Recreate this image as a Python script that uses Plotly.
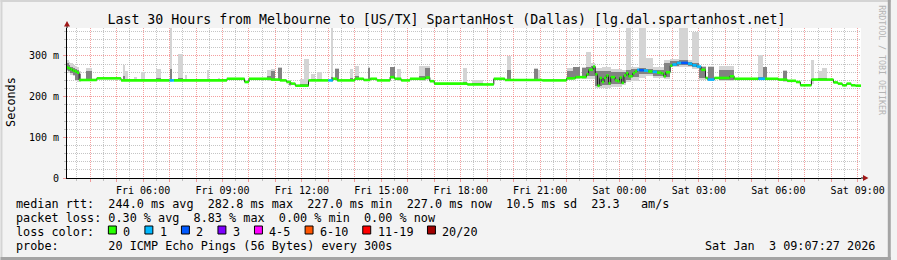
import plotly.graph_objects as go
from datetime import datetime, timedelta

# ---------------- data ----------------
window_start = "Fri 03:07:27"
window_end = "Sat 09:07:27"

median_time = [
    "Fri 03:07:27", "Fri 03:10", "Fri 03:15", "Fri 03:20", "Fri 03:25", "Fri 03:30", "Fri 03:35",
    "Fri 04:15", "Fri 05:10", "Fri 07:00", "Fri 07:10", "Fri 09:10", "Fri 09:50", "Fri 10:00",
    "Fri 10:50", "Fri 11:10", "Fri 11:25", "Fri 11:35", "Fri 11:45", "Fri 12:15", "Fri 13:00",
    "Fri 13:10", "Fri 13:20", "Fri 14:00", "Fri 14:20", "Fri 14:35", "Fri 14:50", "Fri 15:20",
    "Fri 15:30", "Fri 15:45", "Fri 16:05", "Fri 16:40", "Fri 16:50", "Fri 17:00", "Fri 18:15",
    "Fri 19:15", "Fri 19:40", "Fri 21:05", "Fri 22:00", "Fri 22:20", "Fri 22:45", "Fri 22:50",
    "Fri 23:00", "Fri 23:05", "Fri 23:10", "Fri 23:15", "Fri 23:20", "Fri 23:25", "Fri 23:30",
    "Fri 23:35", "Fri 23:40", "Fri 23:50", "Fri 23:55", "Sat 00:00", "Sat 00:05", "Sat 00:10",
    "Sat 00:15", "Sat 00:20", "Sat 00:30", "Sat 00:35", "Sat 00:40", "Sat 00:45", "Sat 00:55",
    "Sat 01:05", "Sat 01:15", "Sat 01:25", "Sat 01:35", "Sat 01:40", "Sat 01:45", "Sat 01:55",
    "Sat 02:00", "Sat 02:10", "Sat 02:20", "Sat 02:35", "Sat 02:45", "Sat 02:55", "Sat 03:05",
    "Sat 03:15", "Sat 03:20", "Sat 03:35", "Sat 04:10", "Sat 04:20", "Sat 05:15", "Sat 05:30",
    "Sat 06:00", "Sat 06:20", "Sat 06:40", "Sat 06:50", "Sat 07:15", "Sat 08:05", "Sat 08:15",
    "Sat 08:25", "Sat 08:35", "Sat 08:45", "Sat 08:55",
]
median_ms = [
    272, 270, 267, 264, 262, 259, 241,
    245, 240, 240, 240, 244, 236, 244,
    242, 240, 236, 232, 227, 240, 240,
    244, 240, 244, 241, 244, 240, 248,
    244, 240, 244, 247, 238, 232, 230,
    244, 241, 240, 245, 248, 255, 266,
    274, 255, 227, 246, 236, 246, 252,
    233, 248, 240, 238, 247, 234, 252,
    258, 250, 258, 262, 266, 265, 264,
    262, 261, 259, 257, 250, 260, 276,
    279, 282.8, 283, 281, 277, 274, 266,
    246, 242, 246, 250, 244, 244, 244,
    242, 239, 236, 228, 242, 235, 232,
    228, 232, 228, 227,
]
median_loss = [
    0, 0, 0, 0, 0, 0, 0,
    0, 0, 1, 0, 0, 0, 0,
    0, 0, 0, 0, 0, 0, 1,
    0, 0, 0, 0, 0, 0, 0,
    0, 0, 0, 0, 0, 0, 0,
    0, 0, 0, 0, 0, 0, 0,
    0, 0, 0, 0, 0, 0, 0,
    0, 0, 0, 0, 0, 0, 0,
    0, 0, 0, 0, 1, 2, 1,
    0, 1, 0, 0, 0, 0, 0,
    1, 1, 2, 1, 1, 1, 0,
    0, 1, 0, 0, 0, 1, 0,
    0, 0, 0, 0, 0, 0, 0,
    0, 0, 0, 0,
]

# smoke: spread of the 20 pings per interval (min..max) and the inner band
smoke_start = [
    "Fri 03:07:27", "Fri 03:10", "Fri 03:15", "Fri 03:20", "Fri 03:25", "Fri 03:30", "Fri 03:35",
    "Fri 03:50", "Fri 05:15", "Fri 05:20", "Fri 05:40", "Fri 05:55", "Fri 06:30", "Fri 07:00",
    "Fri 07:20", "Fri 07:35", "Fri 08:25", "Fri 08:50", "Fri 10:40", "Fri 10:50", "Fri 11:05",
    "Fri 11:30", "Fri 11:55", "Fri 12:05", "Fri 12:20", "Fri 12:35", "Fri 13:05", "Fri 13:15",
    "Fri 13:50", "Fri 14:00", "Fri 14:30", "Fri 15:20", "Fri 15:35", "Fri 16:25", "Fri 16:40",
    "Fri 18:05", "Fri 18:25", "Fri 19:45", "Fri 20:45", "Fri 20:55", "Fri 22:00", "Fri 22:15",
    "Fri 22:35", "Fri 22:45", "Fri 22:55", "Fri 23:05", "Fri 23:20", "Fri 23:40", "Sat 00:05",
    "Sat 00:15", "Sat 00:25", "Sat 00:45", "Sat 01:00", "Sat 01:15", "Sat 01:40", "Sat 01:55",
    "Sat 02:15", "Sat 02:35", "Sat 02:45", "Sat 03:00", "Sat 03:20", "Sat 03:45", "Sat 05:15",
    "Sat 05:25", "Sat 06:10", "Sat 07:15", "Sat 07:30", "Sat 07:40",
]
smoke_end = [
    "Fri 03:10", "Fri 03:15", "Fri 03:20", "Fri 03:25", "Fri 03:30", "Fri 03:35", "Fri 03:40",
    "Fri 04:05", "Fri 05:20", "Fri 05:25", "Fri 05:45", "Fri 06:05", "Fri 06:40", "Fri 07:05",
    "Fri 07:30", "Fri 07:40", "Fri 08:30", "Fri 08:55", "Fri 10:50", "Fri 11:00", "Fri 11:15",
    "Fri 11:35", "Fri 12:05", "Fri 12:15", "Fri 12:30", "Fri 12:45", "Fri 13:10", "Fri 13:25",
    "Fri 13:55", "Fri 14:10", "Fri 14:35", "Fri 15:30", "Fri 15:45", "Fri 16:40", "Fri 16:50",
    "Fri 18:15", "Fri 18:50", "Fri 19:55", "Fri 20:55", "Fri 21:00", "Fri 22:15", "Fri 22:30",
    "Fri 22:45", "Fri 22:55", "Fri 23:05", "Fri 23:20", "Fri 23:40", "Sat 00:05", "Sat 00:15",
    "Sat 00:25", "Sat 00:45", "Sat 01:00", "Sat 01:15", "Sat 01:40", "Sat 01:55", "Sat 02:15",
    "Sat 02:35", "Sat 02:45", "Sat 03:00", "Sat 03:15", "Sat 03:35", "Sat 04:20", "Sat 05:25",
    "Sat 05:35", "Sat 06:20", "Sat 07:20", "Sat 07:40", "Sat 07:50",
]
smoke_min = [
    262, 258, 254, 250, 238, 236, 236,
    238, 238, 238, 238, 238, 238, 236,
    238, 238, 238, 238, 238, 238, 238,
    226, 224, 224, 238, 238, 236, 238,
    238, 240, 240, 244, 238, 238, 240,
    228, 228, 238, 238, 238, 242, 244,
    244, 244, 244, 222, 222, 224, 228,
    236, 238, 246, 252, 246, 244, 272,
    274, 272, 268, 242, 240, 238, 240,
    240, 236, 230, 238, 238,
]
smoke_max = [
    290, 286, 282, 278, 276, 272, 262,
    270, 278, 262, 248, 260, 268, 372,
    305, 254, 266, 246, 266, 268, 272,
    240, 244, 293, 256, 260, 372, 270,
    268, 276, 272, 274, 268, 276, 276,
    270, 240, 299, 270, 266, 270, 274,
    274, 311, 282, 270, 272, 268, 266,
    372, 272, 372, 296, 272, 290, 292,
    372, 290, 360, 276, 276, 276, 303,
    274, 266, 291, 262, 270,
]
smoke_inner_lo = [
    266, 262, 258, 254, 242, 240, 240,
    241, 241, 240, 239, 239, 239, 240,
    239, 239, 239, 239, 240, 242, 242,
    228, 226, 226, 239, 239, 238, 241,
    240, 242, 242, 246, 240, 240, 244,
    229, 229, 240, 240, 239, 244, 246,
    248, 250, 250, 226, 228, 230, 234,
    242, 248, 255, 256, 252, 248, 276,
    278, 275, 272, 246, 242, 242, 242,
    242, 238, 238, 240, 240,
]
smoke_inner_hi = [
    282, 278, 274, 270, 268, 266, 256,
    262, 250, 244, 242, 244, 245, 268,
    246, 242, 244, 242, 250, 262, 270,
    234, 230, 232, 244, 244, 248, 268,
    246, 252, 270, 272, 246, 250, 270,
    236, 233, 266, 268, 244, 262, 272,
    270, 272, 276, 262, 264, 260, 260,
    266, 268, 270, 268, 266, 282, 288,
    290, 286, 282, 274, 274, 266, 248,
    272, 264, 244, 245, 246,
]

y_tick_values = [0, 100, 200, 300]
y_tick_labels = ["0", "100 m", "200 m", "300 m"]
x_tick_labels = ["Fri 06:00", "Fri 09:00", "Fri 12:00", "Fri 15:00", "Fri 18:00",
                 "Fri 21:00", "Sat 00:00", "Sat 03:00", "Sat 06:00", "Sat 09:00"]

loss_labels = ["0", "1", "2", "3", "4-5", "6-10", "11-19", "20/20"]
loss_colors = ["#26ff00", "#00b8ff", "#0059ff", "#7e00ff", "#ff00ff", "#ff5500", "#ff0000", "#a10000"]

title_text = "Last 30 Hours from Melbourne to [US/TX] SpartanHost (Dallas) [lg.dal.spartanhost.net]"
legend_lines = [
    "median rtt:  244.0 ms avg  282.8 ms max  227.0 ms min  227.0 ms now  10.5 ms sd  23.3   am/s",
    "packet loss: 0.30 % avg  8.83 % max  0.00 % min  0.00 % now",
    "loss color:",
    "probe:       20 ICMP Echo Pings (56 Bytes) every 300s",
]
timestamp_text = "Sat Jan  3 09:07:27 2026"
y_max = 368.8

# ---------------- helpers ----------------
DAYS = {"Fri": "2026-01-02", "Sat": "2026-01-03"}


def T(s):
    day, hm = s.split()
    if len(hm) == 5:
        hm += ":00"
    return datetime.fromisoformat(f"{DAYS[day]} {hm}")


t0, t1 = T(window_start), T(window_end)
MONO = "DejaVu Sans Mono"

# plot-area geometry in pixels (for decorations outside the plot)
W, H = 897, 260
L, R, TOP, BOT = 67, 30, 28, 82
PW, PH = W - L - R, H - TOP - BOT


def px(x):
    return (x - L) / PW


def py(y):
    return (H - BOT - y) / PH


fig = go.Figure()

# smoke (outer spread)
s0 = [T(s) for s in smoke_start]
s1 = [T(s) for s in smoke_end]
mids = [a + (b - a) / 2 for a, b in zip(s0, s1)]
widths = [(b - a).total_seconds() * 1000 for a, b in zip(s0, s1)]
fig.add_trace(go.Bar(
    x=mids, base=smoke_min, y=[h - l for l, h in zip(smoke_min, smoke_max)], width=widths,
    marker=dict(color="#d4d4d4", line=dict(width=0)), hoverinfo="skip"))
fig.add_trace(go.Bar(
    x=mids, base=smoke_inner_lo, y=[h - l for l, h in zip(smoke_inner_lo, smoke_inner_hi)], width=widths,
    marker=dict(color="#828282", line=dict(width=0)), hoverinfo="skip"))

# median: thin dark step line
mt = [T(s) for s in median_time]
fig.add_trace(go.Scatter(
    x=mt + [t1], y=median_ms + [median_ms[-1]], mode="lines",
    line=dict(color="#202020", width=1, shape="hv"), hoverinfo="skip"))

# median: loss-coloured horizontal segments
ends = mt[1:] + [t1]
for lvl in sorted(set(median_loss)):
    xs, ys = [], []
    for a, b, v, l in zip(mt, ends, median_ms, median_loss):
        if l == lvl:
            xs += [a, b, None]
            ys += [v, v, None]
    fig.add_trace(go.Scatter(x=xs, y=ys, mode="lines",
                             line=dict(color=loss_colors[lvl], width=2.6), hoverinfo="skip"))

# axis ticks / grids
hours = []
h = datetime(2026, 1, 2, 4)
while h <= t1:
    hours.append(h)
    h += timedelta(hours=1)
halfs = [x + timedelta(minutes=30) for x in [datetime(2026, 1, 2, 3)] + hours if x + timedelta(minutes=30) < t1]
label_map = {T(s): s for s in x_tick_labels}
x_tick_text = [label_map.get(x, "") for x in hours]

y_minor = [v for v in range(20, int(y_max), 20) if v % 100]

RED_GRID = "rgba(235,80,80,0.55)"
GREY_GRID = "rgba(150,150,150,0.55)"

fig.update_layout(
    width=W, height=H,
    margin=dict(l=L, r=R, t=TOP, b=BOT, pad=0),
    paper_bgcolor="#f3f3f3", plot_bgcolor="#ffffff",
    showlegend=False, barmode="overlay", bargap=0,
    font=dict(family=MONO, size=10, color="#000000"),
    title=dict(text=title_text, font=dict(family=MONO, size=13.25, color="#000000"),
               x=446.5 / W, xanchor="center", y=1 - 19 / H, yanchor="middle", xref="container", yref="container"),
    xaxis=dict(
        type="date", range=[t0, t1], showline=True, linecolor="#000000", linewidth=1,
        tickmode="array", tickvals=hours, ticktext=x_tick_text,
        showgrid=True, gridcolor=RED_GRID, griddash="1px,1px", gridwidth=1,
        ticks="outside", ticklen=3, tickcolor=RED_GRID, tickfont=dict(family=MONO, size=10),
        minor=dict(tickmode="array", tickvals=halfs, showgrid=True, gridcolor=GREY_GRID,
                   griddash="1px,1px", ticks="outside", ticklen=2, tickcolor=GREY_GRID),
        zeroline=False, fixedrange=True,
    ),
    yaxis=dict(
        range=[0, y_max], showline=True, linecolor="#000000", linewidth=1,
        tickmode="array", tickvals=y_tick_values, ticktext=y_tick_labels,
        showgrid=True, gridcolor=RED_GRID, griddash="1px,1px",
        ticks="outside", ticklen=3, tickcolor=RED_GRID, tickfont=dict(family=MONO, size=10),
        ticklabelstandoff=2,
        minor=dict(tickmode="array", tickvals=y_minor, showgrid=True, gridcolor=GREY_GRID,
                   griddash="1px,1px", ticks="outside", ticklen=2, tickcolor=GREY_GRID),
        zeroline=False, fixedrange=True,
    ),
)

shapes = []
ARROW = "#a01818"
# axis extensions + arrows
shapes.append(dict(type="line", xref="paper", yref="paper", x0=0, x1=0, y0=1, y1=py(24),
                   line=dict(color="#000000", width=1)))
shapes.append(dict(type="path", xref="paper", yref="paper",
                   path=f"M {px(64)} {py(26.5)} L {px(70)} {py(26.5)} L {px(67)} {py(21)} Z",
                   fillcolor=ARROW, line=dict(color=ARROW, width=0)))
shapes.append(dict(type="line", xref="paper", yref="paper", x0=1, x1=px(870), y0=0, y1=0,
                   line=dict(color="#000000", width=1)))
shapes.append(dict(type="path", xref="paper", yref="paper",
                   path=f"M {px(869)} {py(175)} L {px(869)} {py(181)} L {px(874.5)} {py(178)} Z",
                   fillcolor=ARROW, line=dict(color=ARROW, width=0)))
# frame (3D border)
shapes.append(dict(type="rect", xref="paper", yref="paper", x0=px(0), x1=px(897), y0=py(0), y1=py(2),
                   fillcolor="#d4d4d4", line=dict(width=0)))
shapes.append(dict(type="rect", xref="paper", yref="paper", x0=px(0), x1=px(2), y0=py(0), y1=py(260),
                   fillcolor="#d4d4d4", line=dict(width=0)))
shapes.append(dict(type="rect", xref="paper", yref="paper", x0=px(0), x1=px(897), y0=py(257), y1=py(260),
                   fillcolor="#a4a4a4", line=dict(width=0)))
shapes.append(dict(type="rect", xref="paper", yref="paper", x0=px(894), x1=px(897), y0=py(0), y1=py(260),
                   fillcolor="#a4a4a4", line=dict(width=0)))

annotations = []
NB = "\u00a0"
CW = 7.1  # legend char advance (px)
FS = 11.8
line_y = [204.3, 218.3, 232.3, 246.2]
for txt, yy in zip(legend_lines, line_y):
    annotations.append(dict(text=txt.replace(" ", NB), xref="paper", yref="paper",
                            x=px(15), y=py(yy), xanchor="left", yanchor="middle", showarrow=False,
                            font=dict(family=MONO, size=FS, color="#000000"), borderpad=0))
annotations.append(dict(text=timestamp_text.replace(" ", NB), xref="paper", yref="paper",
                        x=px(882), y=py(line_y[3]), xanchor="right", yanchor="middle", showarrow=False,
                        font=dict(family=MONO, size=FS, color="#000000"), borderpad=0))
# loss colour boxes
bx = 108.7
for lab, col in zip(loss_labels, loss_colors):
    shapes.append(dict(type="rect", xref="paper", yref="paper", x0=px(bx), x1=px(bx + 8),
                       y0=py(226), y1=py(234), fillcolor=col, line=dict(color="#000000", width=1)))
    annotations.append(dict(text=lab, xref="paper", yref="paper", x=px(bx + 14), y=py(line_y[2]),
                            xanchor="left", yanchor="middle", showarrow=False, borderpad=0,
                            font=dict(family=MONO, size=FS, color="#000000")))
    bx += 14 + len(lab) * CW + 15.7

# y axis title
annotations.append(dict(text="Seconds", xref="paper", yref="paper", x=px(10.5), y=py(102),
                        xanchor="center", yanchor="middle", textangle=-90, showarrow=False,
                        font=dict(family=MONO, size=FS, color="#000000")))
# watermark
annotations.append(dict(text="RRDTOOL / TOBI OETIKER".replace(" ", NB), xref="paper", yref="paper",
                        x=px(888), y=py(60), xanchor="center", yanchor="middle", textangle=90,
                        showarrow=False, font=dict(family=MONO, size=8.3, color="#b4b4b4")))

fig.update_layout(shapes=shapes, annotations=annotations)
fig.write_html("out.html")
